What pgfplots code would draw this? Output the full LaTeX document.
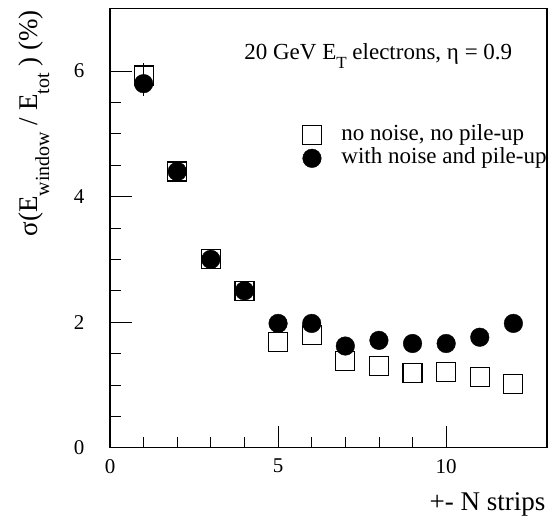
\documentclass[border=0pt]{standalone}
\usepackage{fontspec}
\setmainfont{Liberation Serif}
\usepackage{pgfplots}
\usepackage{pgfplotstable}
\pgfplotsset{compat=1.18}
\newcommand\subA[1]{\raisebox{-0.45em}{\fontsize{20}{24}\selectfont #1}}
\newcommand\subB[1]{\raisebox{-0.4em}{\fontsize{17}{20}\selectfont #1}}
\pgfplotstableread{
x sq esq c ec
1 5.93 0.2 5.80 0.2
2 4.40 0 4.40 0
3 3.00 0 3.00 0
4 2.49 0 2.50 0
5 1.69 0 1.98 0
6 1.80 0 1.98 0
7 1.38 0 1.62 0
8 1.30 0 1.71 0
9 1.19 0 1.66 0
10 1.21 0 1.66 0
11 1.12 0 1.76 0
12 1.02 0 1.98 0
}\datatable
\begin{document}
\begin{tikzpicture}
\begin{axis}[
  scale only axis, width=437pt, height=439.4pt,
  xmin=0, xmax=13, ymin=0, ymax=7,
  xtick={0,5,10}, minor x tick num=4,
  ytick={0,2,4,6}, minor y tick num=3,
  xtick pos=lower, ytick pos=left,
  tick align=inside,
  major tick length=22pt, minor tick length=11pt,
  every tick/.style={black, line width=0.8pt},
  axis line style={line width=1.3pt},
  /pgf/number format/assume math mode=true,
  tick label style={font=\fontsize{21}{25}\selectfont},
  xticklabel style={yshift=-8pt},
  yticklabel style={xshift=-22pt},
  xlabel={+- N strips},
  every axis x label/.style={at={(rel axis cs:1,0)}, anchor=base east, yshift=-62.5pt, xshift=-1.5pt, inner sep=0pt, font=\fontsize{27}{32}\selectfont},
  ylabel={σ(E\subA{window} / E\subA{tot} ) (\%)},
  every axis y label/.style={at={(axis description cs:-0.167,0.996)}, rotate=90, anchor=base east, inner sep=0pt, font=\fontsize{27}{32}\selectfont},
  legend style={at={(axis cs:5.72,5.155)}, anchor=north west, draw=none, fill=none, inner sep=0pt, row sep=1pt,
    font=\fontsize{23}{27}\selectfont,
    nodes={inner sep=0pt, text height=16pt, text depth=6pt},
    /tikz/column 1/.style={column sep=20pt}},
  legend cell align=left,
]
\addplot[only marks, mark=square, mark size=9.5pt, mark options={line width=1.1pt, black, fill=white},
  error bars/.cd, y dir=both, y explicit, error mark=none, error bar style={line width=0.8pt, black}]
  table[x=x, y=sq, y error=esq] {\datatable};
\addlegendentry{no noise, no pile-up}
\addplot[only marks, mark=*, mark size=9.3pt, mark options={black, fill=black},
  error bars/.cd, y dir=both, y explicit, error mark=none, error bar style={line width=0.8pt, black}]
  table[x=x, y=c, y error=ec] {\datatable};
\addlegendentry{with noise and pile-up}
\node[anchor=base west, inner sep=0pt, font=\fontsize{23}{27}\selectfont] at (axis cs:3.99,6.19) {20 GeV E\subB{T} electrons, η = 0.9};
\coordinate (O) at (rel axis cs:0,0);
\end{axis}
\pgfresetboundingbox
\path[use as bounding box] (O) ++(-110pt,-69.3pt) rectangle ++(553pt,517pt);
\end{tikzpicture}
\end{document}
